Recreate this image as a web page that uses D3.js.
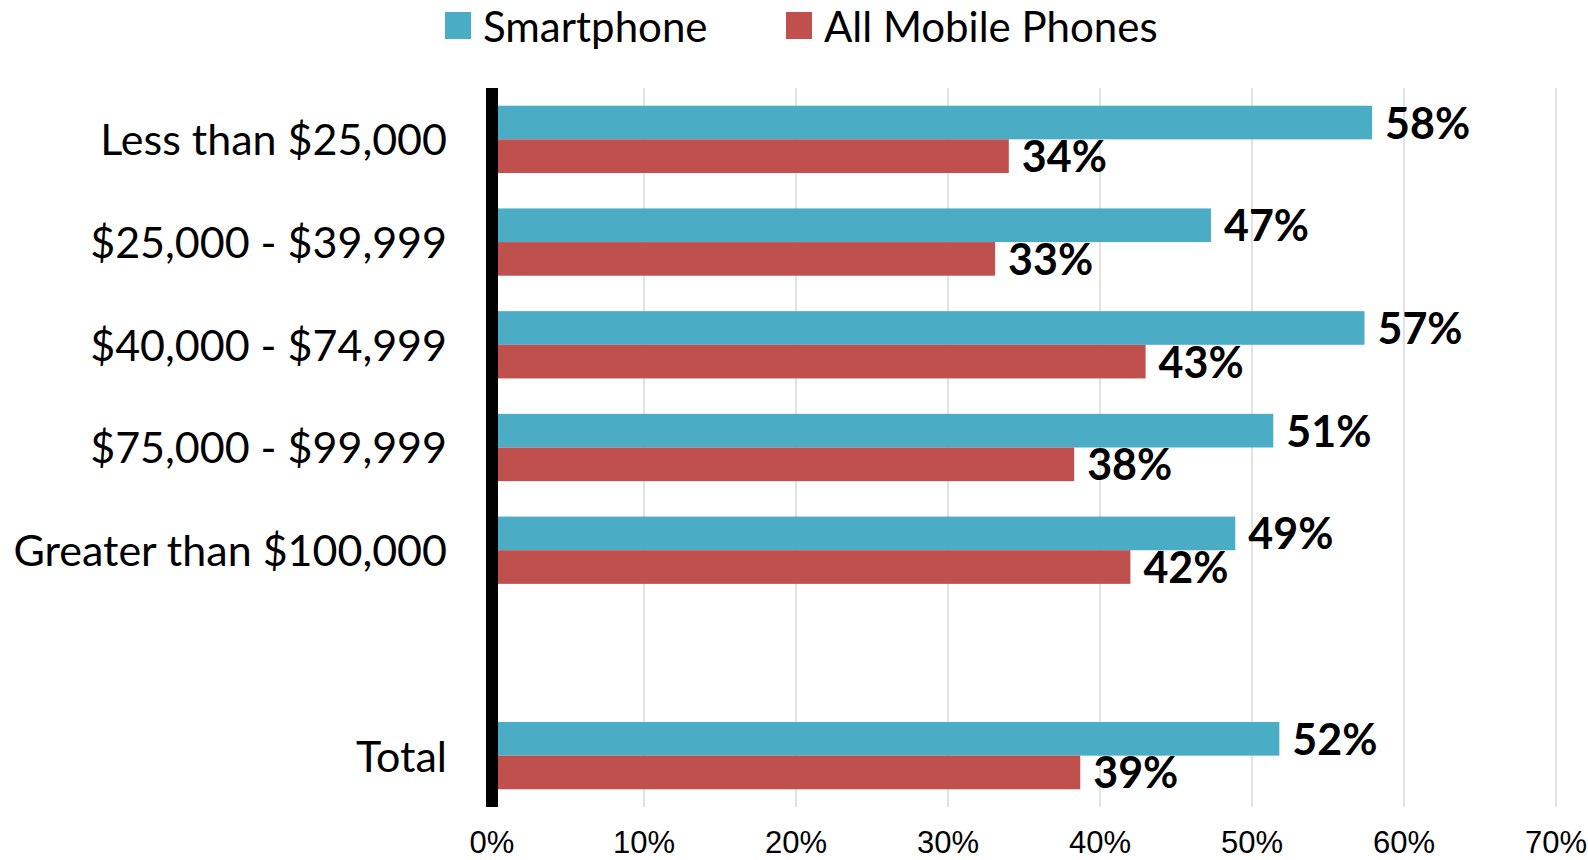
<!DOCTYPE html>
<meta charset="utf-8">
<title>Smartphone vs All Mobile Phones by Income</title>
<style>
body {
  margin: 0;
  background: #fff;
}
text {
  font-family: Lato, "Open Sans", sans-serif;
}
</style>
<body>
<script src="https://cdnjs.cloudflare.com/ajax/libs/d3/7.8.5/d3.min.js"></script>
<script>
var categories = ["Less than $25,000", "$25,000 - $39,999", "$40,000 - $74,999",
                  "$75,000 - $99,999", "Greater than $100,000", "", "Total"];
var smartphone = [57.9, 47.3, 57.4, 51.4, 48.9, null, 51.8];
var allMobile  = [34.0, 33.1, 43.0, 38.3, 42.0, null, 38.7];
var series = ["Smartphone", "All Mobile Phones"];
var colors = ["#4bacc6", "#c0504d"];
var ticks = [0, 10, 20, 30, 40, 50, 60, 70];

var w = 1588, h = 860;

var svg = d3.select("body").append("svg")
    .attr("width", w)
    .attr("height", h);

var x = d3.scaleLinear().domain([0, 70]).range([492, 1556]);
var y = d3.scaleBand().domain(categories).range([88, 807])
    .paddingInner(0.345).paddingOuter(0.1725);
var sub = d3.scaleBand().domain(series).range([0, y.bandwidth()]);

// gridlines
svg.append("g").selectAll("line")
    .data(ticks.slice(1))
  .enter().append("line")
    .attr("x1", x).attr("x2", x)
    .attr("y1", 88).attr("y2", 807)
    .attr("stroke", "#d9d9d9")
    .attr("stroke-width", 1.5);

// tick labels
svg.append("g").selectAll("text")
    .data(ticks)
  .enter().append("text")
    .attr("x", x)
    .attr("y", 853)
    .attr("text-anchor", "middle")
    .style("font-family", "'Liberation Sans', Arial, sans-serif")
    .style("font-size", "31px")
    .text(function(d) { return d + "%"; });

var rows = categories.map(function(c, i) {
  return {cat: c, vals: [smartphone[i], allMobile[i]]};
}).filter(function(d) { return d.cat !== ""; });

var g = svg.append("g").selectAll("g")
    .data(rows)
  .enter().append("g")
    .attr("transform", function(d) { return "translate(0," + y(d.cat) + ")"; });

var cells = g.selectAll("g")
    .data(function(d) { return d.vals.map(function(v, i) { return {s: series[i], v: v, i: i}; }); })
  .enter().append("g");

cells.append("rect")
    .attr("x", x(0))
    .attr("y", function(d) { return sub(d.s); })
    .attr("width", function(d) { return x(d.v) - x(0); })
    .attr("height", sub.bandwidth())
    .style("fill", function(d) { return colors[d.i]; });

cells.append("text")
    .attr("x", function(d) { return x(d.v) + 13; })
    .attr("y", function(d) { return sub(d.s) + sub.bandwidth() / 2 + 16; })
    .style("font-size", "43px")
    .style("font-weight", "bold")
    .text(function(d) { return Math.round(d.v) + "%"; });

// category labels
g.append("text")
    .attr("x", 447)
    .attr("y", y.bandwidth() / 2 + 16)
    .attr("text-anchor", "end")
    .style("font-size", "43px")
    .text(function(d) { return d.cat; });

// axis line
svg.append("line")
    .attr("x1", x(0)).attr("x2", x(0))
    .attr("y1", 88).attr("y2", 807)
    .attr("stroke", "#000")
    .attr("stroke-width", 12);

// legend
var legendX = [445, 786];
var lg = svg.append("g").selectAll("g")
    .data(series)
  .enter().append("g")
    .attr("transform", function(d, i) { return "translate(" + legendX[i] + ",12)"; });

lg.append("rect")
    .attr("width", 26).attr("height", 27)
    .style("fill", function(d, i) { return colors[i]; });

lg.append("text")
    .attr("x", 38)
    .attr("y", 30)
    .style("font-size", "42px")
    .text(function(d) { return d; });
</script>
